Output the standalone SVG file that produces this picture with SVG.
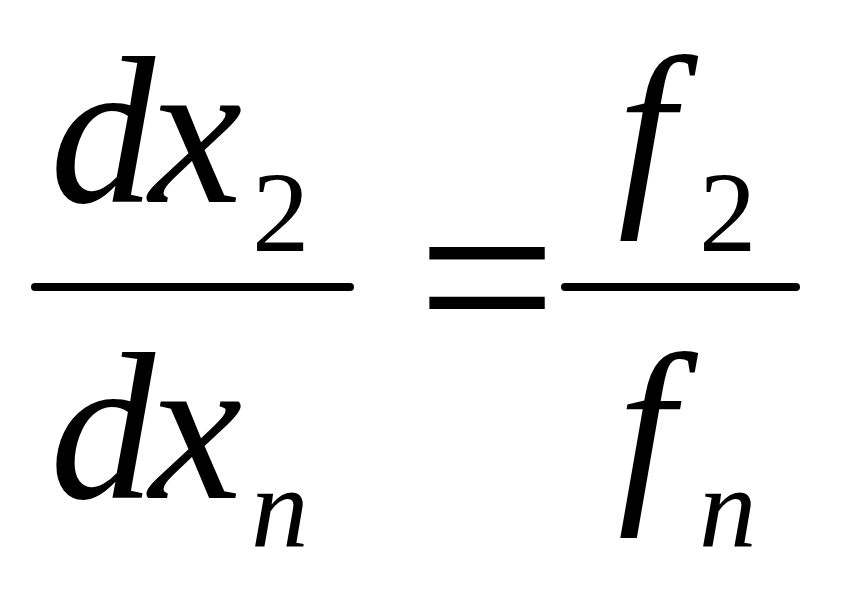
<svg xmlns="http://www.w3.org/2000/svg" width="845" height="592" viewBox="0 0 845 592">
<style>
.v{font-family:"Liberation Serif","Times New Roman",serif;font-style:italic;fill:#000}
.b{font-size:210px;letter-spacing:-6px}
.f{font-size:204px}
.s{font-size:115px;font-style:normal}
.sn{font-size:115px}
.r{font-family:"Liberation Serif",serif;fill:#000}
</style>
<rect width="845" height="592" fill="#fff"/>
<g id="lhs">
<text class="v b" x="50" y="202">dx</text>
<text class="v s" x="252" y="251">2</text>
<line x1="35" y1="287" x2="350" y2="287" stroke="#000" stroke-width="8" stroke-linecap="round"/>
<text class="v b" x="50" y="498">dx</text>
<text class="v sn" x="251" y="547">n</text>
</g>
<g id="eq">
<text class="r" x="417" y="360" font-size="248">=</text>
</g>
<g id="rhs">
<text class="v f" x="618" y="198">f</text>
<text class="v s" x="699" y="251">2</text>
<line x1="565" y1="287" x2="796" y2="287" stroke="#000" stroke-width="8" stroke-linecap="round"/>
<text class="v f" x="618" y="495">f</text>
<text class="v sn" x="699" y="547">n</text>
</g>
</svg>
